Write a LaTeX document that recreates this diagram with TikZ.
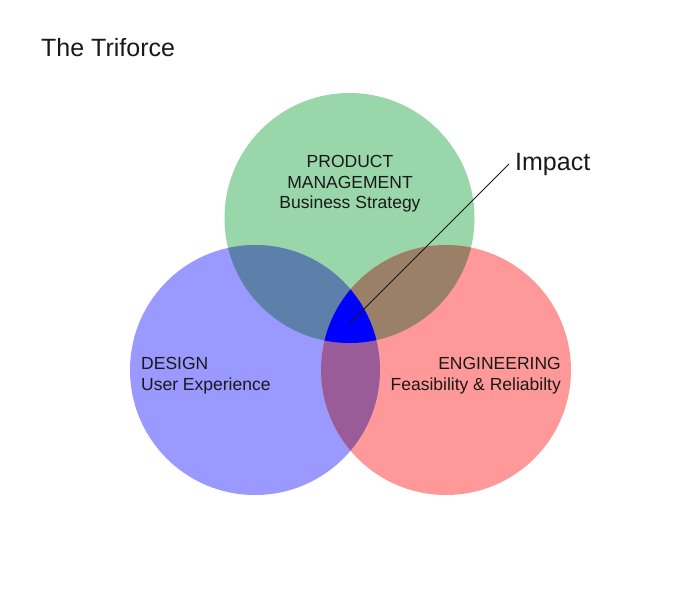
\documentclass[tikz,border=0pt]{standalone}
\usepackage{fontspec}
\setmainfont{Liberation Sans}
\definecolor{cgreen}{RGB}{153,214,170}
\definecolor{cblue}{RGB}{153,153,255}
\definecolor{cred}{RGB}{255,153,153}
\definecolor{cgb}{RGB}{92,128,170}
\definecolor{cgr}{RGB}{153,128,102}
\definecolor{cbr}{RGB}{153,92,153}
\definecolor{ccenter}{RGB}{0,0,255}
\definecolor{ctext}{RGB}{25,25,25}
\tikzset{
  lbl/.style={text=ctext,font=\fontsize{17.5}{20.5}\selectfont,inner sep=0pt},
  big/.style={text=ctext,font=\fontsize{25}{29}\selectfont,inner sep=0pt},
}
\begin{document}
\begin{tikzpicture}[x=1pt,y=-1pt]
\useasboundingbox (0,0) rectangle (700,600);
\def\R{125}
\coordinate (G) at (349.5,218);
\coordinate (B) at (255,370);
\coordinate (Rd) at (446,370);
\fill[cgreen] (G) circle (\R);
\fill[cblue] (B) circle (\R);
\fill[cred] (Rd) circle (\R);
\begin{scope}
  \clip (G) circle (\R);
  \fill[cgb] (B) circle (\R);
  \fill[cgr] (Rd) circle (\R);
\end{scope}
\begin{scope}
  \clip (B) circle (\R);
  \fill[cbr] (Rd) circle (\R);
  \clip (G) circle (\R);
  \fill[ccenter] (Rd) circle (\R);
\end{scope}
\node[big,anchor=base west] (title) at (41,56) {The Triforce};
\node[lbl,align=center,anchor=center] (pm) at (350,184) {PRODUCT\\MANAGEMENT\\Business Strategy};
\node[lbl,align=left,anchor=west] (ds) at (141,375.5) {DESIGN\\User Experience};
\node[lbl,align=right,anchor=east] (en) at (561,375.5) {ENGINEERING\\Feasibility \& Reliabilty};
\node[big,anchor=base west] (imp) at (515,170) {Impact};
\coordinate (c) at (350,323);
\coordinate (lt) at (509,164);
\draw[ctext,line width=0.8pt] (c) -- (lt);
\end{tikzpicture}
\end{document}
